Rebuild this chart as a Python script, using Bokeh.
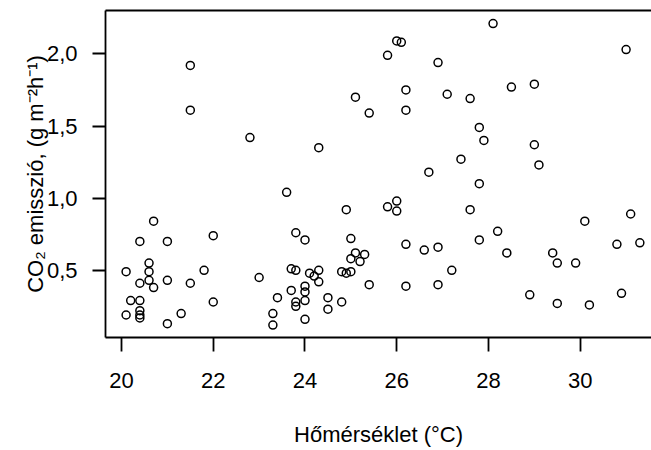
from bokeh.plotting import figure
from bokeh.models import Range1d, FixedTicker, LinearAxis
from bokeh.embed import file_html
from bokeh.resources import INLINE

# Data
temperature = [20.1, 20.1, 20.2, 20.4, 20.4, 20.4, 20.4, 20.4, 20.4, 20.6, 20.6, 20.6,
               20.7, 20.7, 21.0, 21.0, 21.0, 21.3, 21.5, 21.5, 21.5, 21.8, 22.0, 22.0,
               22.8, 23.0, 23.3, 23.3, 23.4, 23.6, 23.7, 23.7, 23.8, 23.8, 23.8, 23.8,
               24.0, 24.0, 24.0, 24.0, 24.0, 24.1, 24.2, 24.3, 24.3, 24.3, 24.5, 24.5,
               24.8, 24.8, 24.9, 24.9, 25.0, 25.0, 25.0, 25.1, 25.1, 25.2, 25.3, 25.4,
               25.4, 25.8, 25.8, 26.0, 26.0, 26.0, 26.1, 26.2, 26.2, 26.2, 26.2, 26.6,
               26.7, 26.9, 26.9, 26.9, 27.1, 27.2, 27.4, 27.6, 27.6, 27.8, 27.8, 27.8,
               27.9, 28.1, 28.2, 28.4, 28.5, 28.9, 29.0, 29.0, 29.1, 29.4, 29.5, 29.5,
               29.9, 30.1, 30.2, 30.8, 30.9, 31.0, 31.1, 31.3]
co2 = [0.49, 0.19, 0.29, 0.70, 0.41, 0.29, 0.22, 0.19, 0.17, 0.55, 0.49, 0.43,
       0.84, 0.38, 0.70, 0.43, 0.13, 0.20, 1.92, 1.61, 0.41, 0.50, 0.74, 0.28,
       1.42, 0.45, 0.20, 0.12, 0.31, 1.04, 0.51, 0.36, 0.76, 0.50, 0.28, 0.25,
       0.71, 0.39, 0.35, 0.29, 0.16, 0.48, 0.46, 1.35, 0.50, 0.42, 0.31, 0.23,
       0.49, 0.28, 0.92, 0.48, 0.72, 0.58, 0.49, 1.70, 0.62, 0.56, 0.61, 1.59,
       0.40, 1.99, 0.94, 2.09, 0.98, 0.91, 2.08, 1.75, 1.61, 0.68, 0.39, 0.64,
       1.18, 1.94, 0.66, 0.40, 1.72, 0.50, 1.27, 1.69, 0.92, 1.49, 1.10, 0.71,
       1.40, 2.21, 0.77, 0.62, 1.77, 0.33, 1.79, 1.37, 1.23, 0.62, 0.55, 0.27,
       0.55, 0.84, 0.26, 0.68, 0.34, 2.03, 0.89, 0.69]

x_ticks = [20, 22, 24, 26, 28, 30]
x_tick_labels = ["20", "22", "24", "26", "28", "30"]
y_ticks = [0.5, 1.0, 1.5, 2.0]
y_tick_labels = ["0,5", "1,0", "1,5", "2,0"]

x_label = "Hőmérséklet (°C)"
y_label = "CO₂ emisszió, (g m⁻²h⁻¹)"

FONT = "Liberation Sans"
LW = 1.8

p = figure(width=651, height=450, output_backend="svg", toolbar_location=None,
           x_range=Range1d(19.651, 31.554), y_range=Range1d(0.034, 2.3006),
           min_border_left=105, min_border_right=0, min_border_top=10,
           min_border_bottom=113, background_fill_color="white",
           border_fill_color="white")
p.outline_line_color = None
p.xgrid.visible = False
p.ygrid.visible = False

p.scatter(temperature, co2, marker="circle", size=8, fill_color=None,
          line_color="black", line_width=1.5)

xa = p.xaxis[0]
xa.ticker = FixedTicker(ticks=x_ticks)
xa.major_label_overrides = dict(zip(x_ticks, x_tick_labels))
xa.minor_tick_line_color = None
xa.major_tick_out = 14
xa.major_tick_in = 0
xa.major_tick_line_width = LW
xa.axis_line_width = LW
xa.axis_line_color = "black"
xa.major_tick_line_color = "black"
xa.major_label_text_font = FONT
xa.major_label_text_font_size = "22px"
xa.major_label_text_color = "black"
xa.major_label_standoff = 21
xa.axis_label = x_label
xa.axis_label_text_font = FONT
xa.axis_label_text_font_size = "22px"
xa.axis_label_text_font_style = "normal"
xa.axis_label_text_color = "black"
xa.axis_label_standoff = 31

ya = p.yaxis[0]
ya.ticker = FixedTicker(ticks=y_ticks)
ya.major_label_overrides = dict(zip(y_ticks, y_tick_labels))
ya.minor_tick_line_color = None
ya.major_tick_out = 13
ya.major_tick_in = 0
ya.major_tick_line_width = LW
ya.axis_line_width = LW
ya.axis_line_color = "black"
ya.major_tick_line_color = "black"
ya.major_label_text_font = FONT
ya.major_label_text_font_size = "22px"
ya.major_label_text_color = "black"
ya.major_label_standoff = 15
ya.major_label_orientation = "horizontal"
ya.axis_label = y_label
ya.axis_label_text_font = FONT
ya.axis_label_text_font_size = "22px"
ya.axis_label_text_font_style = "normal"
ya.axis_label_text_color = "black"
ya.axis_label_standoff = -4

top = LinearAxis(ticker=FixedTicker(ticks=[]), axis_line_width=LW,
                 axis_line_color="black", major_tick_out=0, major_tick_in=0,
                 minor_tick_out=0, minor_tick_in=0, major_label_standoff=0,
                 major_label_text_font_size="0px", axis_label_standoff=0)
p.add_layout(top, "above")

open("out.html", "w").write(file_html(p, INLINE))
